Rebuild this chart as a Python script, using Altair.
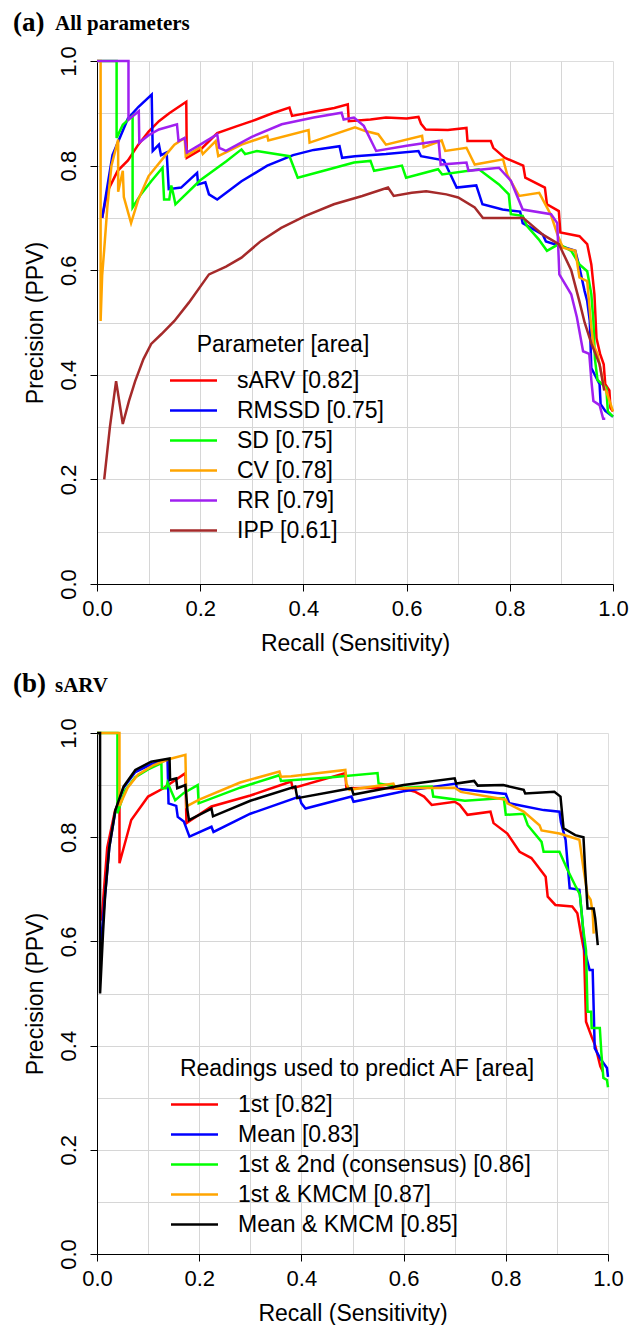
import altair as alt
import pandas as pd

# ---------------- text ----------------
top_tag, top_text = "(a)", "All parameters"
bot_tag, bot_text = "(b)", "sARV"
x_title = "Recall (Sensitivity)"
y_title = "Precision (PPV)"
top_legend_title = "Parameter [area]"
bot_legend_title = "Readings used to predict AF [area]"

ticks = [0.0, 0.1, 0.2, 0.3, 0.4, 0.5, 0.6, 0.7, 0.8, 0.9, 1.0]

# ---------------- panel (a): (recall, precision) ----------------
top_names = ["sARV [0.82]", "RMSSD [0.75]", "SD [0.75]", "CV [0.78]", "RR [0.79]", "IPP [0.61]"]
top_colors = ["#FF0000", "#0000FF", "#00FF00", "#FFA500", "#A020F0", "#A52A2A"]

sarv = [(0.010,0.700),(0.020,0.750),(0.040,0.790),(0.060,0.810),(0.080,0.840),(0.100,0.865),
        (0.120,0.885),(0.140,0.900),(0.173,0.922),(0.174,0.815),(0.200,0.830),(0.233,0.862),
        (0.270,0.875),(0.300,0.885),(0.340,0.900),(0.373,0.911),(0.378,0.895),(0.420,0.903),
        (0.460,0.910),(0.486,0.917),(0.488,0.885),(0.530,0.888),(0.560,0.892),(0.600,0.890),
        (0.623,0.893),(0.628,0.880),(0.637,0.869),(0.680,0.868),(0.716,0.872),(0.718,0.847),
        (0.763,0.847),(0.768,0.834),(0.790,0.815),(0.826,0.800),(0.830,0.777),(0.868,0.758),
        (0.872,0.726),(0.895,0.713),(0.898,0.672),(0.935,0.665),(0.950,0.650),(0.958,0.611),
        (0.964,0.554),(0.968,0.470),(0.975,0.440),(0.982,0.420),(0.985,0.382),(0.993,0.370),
        (0.995,0.337),(1.000,0.330)]
rmssd = [(0.010,0.700),(0.030,0.820),(0.060,0.890),(0.080,0.912),(0.106,0.936),(0.108,0.828),
         (0.120,0.840),(0.124,0.820),(0.135,0.825),(0.139,0.755),(0.163,0.758),(0.194,0.786),
         (0.196,0.764),(0.210,0.768),(0.217,0.745),(0.233,0.735),(0.280,0.770),(0.330,0.800),
         (0.380,0.820),(0.420,0.830),(0.470,0.837),(0.475,0.815),(0.500,0.818),(0.560,0.822),
         (0.623,0.828),(0.628,0.818),(0.672,0.810),(0.685,0.783),(0.697,0.758),(0.735,0.762),
         (0.747,0.726),(0.786,0.716),(0.820,0.712),(0.825,0.690),(0.864,0.668),(0.870,0.655),
         (0.927,0.637),(0.935,0.605),(0.945,0.560),(0.950,0.541),(0.955,0.503),(0.958,0.413),
         (0.974,0.382),(0.976,0.344),(0.985,0.331),(1.000,0.320)]
sd = [(0.000,1.000),(0.038,1.000),(0.038,0.853),(0.050,0.878),(0.069,0.895),(0.069,0.720),
      (0.085,0.745),(0.105,0.770),(0.127,0.796),(0.130,0.735),(0.140,0.735),(0.144,0.762),
      (0.148,0.745),(0.152,0.726),(0.200,0.772),(0.250,0.808),(0.280,0.831),(0.287,0.822),
      (0.310,0.828),(0.373,0.818),(0.389,0.777),(0.450,0.793),(0.498,0.806),(0.530,0.809),
      (0.537,0.790),(0.591,0.800),(0.599,0.777),(0.661,0.793),(0.669,0.783),(0.740,0.793),
      (0.779,0.764),(0.798,0.745),(0.802,0.707),(0.825,0.704),(0.833,0.685),(0.856,0.659),
      (0.872,0.637),(0.895,0.650),(0.919,0.637),(0.935,0.611),(0.950,0.598),(0.958,0.554),
      (0.962,0.503),(0.965,0.430),(0.970,0.390),(0.987,0.375),(0.990,0.330),(1.000,0.320)]
cv = [(0.000,1.000),(0.007,1.000),(0.007,0.503),(0.010,0.590),(0.014,0.640),(0.020,0.720),
      (0.028,0.800),(0.041,0.850),(0.041,0.750),(0.050,0.790),(0.052,0.740),(0.066,0.690),
      (0.080,0.735),(0.100,0.780),(0.133,0.820),(0.150,0.840),(0.170,0.853),(0.172,0.818),
      (0.200,0.835),(0.205,0.822),(0.230,0.847),(0.235,0.818),(0.280,0.840),(0.330,0.857),
      (0.332,0.848),(0.410,0.868),(0.412,0.844),(0.500,0.873),(0.520,0.866),(0.545,0.860),
      (0.560,0.840),(0.630,0.857),(0.633,0.835),(0.668,0.848),(0.675,0.828),(0.716,0.834),
      (0.732,0.802),(0.787,0.812),(0.795,0.783),(0.818,0.742),(0.857,0.748),(0.872,0.720),
      (0.880,0.705),(0.892,0.669),(0.903,0.643),(0.927,0.637),(0.935,0.586),(0.950,0.579),
      (0.958,0.490),(0.962,0.457),(0.970,0.440),(0.982,0.380),(0.990,0.360),(1.000,0.330)]
rr = [(0.000,1.000),(0.061,1.000),(0.061,0.888),(0.081,0.904),(0.082,0.844),(0.100,0.858),
      (0.120,0.869),(0.155,0.879),(0.158,0.847),(0.170,0.853),(0.174,0.825),(0.200,0.840),
      (0.233,0.860),(0.237,0.834),(0.250,0.828),(0.300,0.855),(0.358,0.879),(0.420,0.892),
      (0.474,0.901),(0.478,0.888),(0.498,0.892),(0.517,0.876),(0.541,0.828),(0.600,0.838),
      (0.662,0.847),(0.666,0.802),(0.716,0.806),(0.720,0.790),(0.779,0.796),(0.802,0.771),
      (0.825,0.716),(0.880,0.707),(0.892,0.690),(0.896,0.592),(0.919,0.554),(0.930,0.510),
      (0.942,0.445),(0.954,0.440),(0.958,0.390),(0.962,0.350),(0.974,0.342),(0.981,0.316),
      (0.985,0.316)]
ipp = [(0.014,0.200),(0.025,0.300),(0.037,0.388),(0.050,0.306),(0.062,0.350),(0.074,0.388),
       (0.090,0.430),(0.105,0.459),(0.125,0.478),(0.150,0.503),(0.178,0.538),(0.217,0.592),
       (0.250,0.607),(0.280,0.624),(0.318,0.656),(0.357,0.681),(0.404,0.704),(0.459,0.726),
       (0.514,0.742),(0.564,0.758),(0.575,0.742),(0.610,0.748),(0.638,0.751),(0.677,0.745),
       (0.700,0.739),(0.732,0.720),(0.748,0.700),(0.826,0.700),(0.864,0.668),(0.895,0.650),
       (0.919,0.600),(0.935,0.540),(0.945,0.500),(0.958,0.460),(0.974,0.420),(0.983,0.370)]

# ---------------- panel (b) ----------------
bot_names = ["1st [0.82]", "Mean [0.83]", "1st & 2nd (consensus) [0.86]",
             "1st & KMCM [0.87]", "Mean & KMCM [0.85]"]
bot_colors = ["#FF0000", "#0000FF", "#00FF00", "#FFA500", "#000000"]

first = [(0.009,0.640),(0.020,0.780),(0.035,0.850),(0.044,0.870),(0.044,0.750),(0.067,0.833),
         (0.100,0.878),(0.130,0.894),(0.173,0.923),(0.175,0.827),(0.224,0.859),(0.300,0.880),
         (0.380,0.907),(0.383,0.894),(0.486,0.923),(0.488,0.894),(0.550,0.895),(0.600,0.893),
         (0.623,0.887),(0.640,0.878),(0.655,0.862),(0.700,0.868),(0.710,0.862),(0.725,0.843),
         (0.770,0.849),(0.776,0.827),(0.803,0.807),(0.827,0.772),(0.850,0.760),(0.858,0.750),
         (0.878,0.724),(0.882,0.686),(0.897,0.670),(0.930,0.667),(0.940,0.654),(0.948,0.609),
         (0.953,0.583),(0.957,0.446),(0.968,0.417),(0.975,0.400),(0.985,0.360),(0.990,0.350)]
mean = [(0.008,0.600),(0.016,0.690),(0.024,0.780),(0.036,0.850),(0.052,0.895),(0.075,0.925),
        (0.106,0.940),(0.138,0.948),(0.140,0.865),(0.155,0.860),(0.158,0.839),(0.170,0.830),
        (0.181,0.801),(0.224,0.820),(0.228,0.810),(0.300,0.845),(0.396,0.878),(0.400,0.865),
        (0.408,0.855),(0.498,0.878),(0.502,0.868),(0.600,0.888),(0.702,0.903),(0.705,0.893),
        (0.800,0.883),(0.807,0.865),(0.874,0.852),(0.905,0.849),(0.908,0.828),(0.917,0.795),
        (0.925,0.702),(0.944,0.699),(0.948,0.660),(0.955,0.580),(0.964,0.545),(0.970,0.545),
        (0.974,0.395),(0.985,0.375),(0.998,0.357),(1.000,0.340)]
consensus = [(0.000,1.000),(0.040,1.000),(0.040,0.846),(0.055,0.890),(0.075,0.915),(0.100,0.930),
             (0.126,0.942),(0.127,0.894),(0.135,0.894),(0.138,0.905),(0.153,0.871),(0.170,0.885),
             (0.197,0.900),(0.199,0.865),(0.280,0.895),(0.357,0.919),(0.360,0.908),(0.460,0.915),
             (0.549,0.923),(0.551,0.903),(0.600,0.895),(0.655,0.897),(0.658,0.878),(0.720,0.870),
             (0.796,0.875),(0.800,0.843),(0.835,0.845),(0.843,0.823),(0.870,0.791),(0.874,0.772),
             (0.905,0.772),(0.921,0.737),(0.937,0.705),(0.945,0.690),(0.951,0.628),(0.957,0.583),
             (0.960,0.465),(0.967,0.465),(0.968,0.434),(0.984,0.434),(0.987,0.386),(0.991,0.338),
             (0.998,0.334),(1.000,0.320)]
first_kmcm = [(0.000,1.000),(0.044,1.000),(0.044,0.860),(0.060,0.895),(0.080,0.920),(0.110,0.938),
              (0.142,0.950),(0.173,0.958),(0.175,0.859),(0.200,0.872),(0.280,0.905),(0.357,0.926),
              (0.360,0.916),(0.380,0.917),(0.486,0.929),(0.488,0.903),(0.494,0.891),(0.580,0.903),
              (0.584,0.894),(0.700,0.895),(0.712,0.887),(0.800,0.872),(0.803,0.865),(0.835,0.849),
              (0.866,0.823),(0.870,0.813),(0.905,0.807),(0.944,0.795),(0.952,0.740),(0.960,0.689),
              (0.966,0.680),(0.970,0.655),(0.972,0.615)]
mean_kmcm = [(0.000,1.000),(0.006,1.000),(0.006,0.500),(0.009,0.560),(0.012,0.620),(0.016,0.690),
             (0.024,0.780),(0.036,0.852),(0.052,0.897),(0.075,0.929),(0.106,0.945),(0.142,0.951),
             (0.143,0.910),(0.155,0.913),(0.157,0.894),(0.173,0.900),(0.177,0.852),(0.180,0.833),
             (0.224,0.855),(0.227,0.840),(0.300,0.870),(0.388,0.897),(0.392,0.875),(0.498,0.894),
             (0.502,0.882),(0.600,0.900),(0.700,0.913),(0.703,0.903),(0.738,0.908),(0.745,0.899),
             (0.795,0.900),(0.835,0.891),(0.838,0.884),(0.895,0.887),(0.907,0.878),(0.913,0.817),
             (0.936,0.804),(0.952,0.800),(0.955,0.743),(0.960,0.663),(0.972,0.663),(0.975,0.644),
             (0.980,0.593)]

SANS = "Liberation Sans"
SERIF = "Liberation Serif"
# long horizontal legend stroke drawn wider than its layout box
LEGEND_STROKE = "M-2.35,0L2.35,0"


def frame(names, series):
    rows = []
    for k, (n, s) in enumerate(zip(names, series)):
        for i, (x, y) in enumerate(s):
            rows.append({"name": n, "k": k, "i": i, "recall": x, "precision": y})
    return pd.DataFrame(rows)


EVEN = "round(datum.value * 10) % 2 == 0"
NOT_TOP = "datum.value > 0.99"


def axis_common():
    return dict(
        values=ticks,
        labelExpr=f"{EVEN} ? format(datum.value, '.1f') : ''",
        tickOpacity={"condition": {"test": EVEN, "value": 1}, "value": 0},
        gridOpacity={"condition": {"test": NOT_TOP, "value": 0}, "value": 1},
        labelFlush=False,
        labelOverlap=False,
        tickSize=7,
        labelFont=SANS, labelFontSize=22, labelColor="black",
        titleFont=SANS, titleFontSize=23, titleFontWeight="normal", titleColor="black",
        domainColor="black", tickColor="black", gridColor="#D6D6D6",
    )


def panel(names, colors, series, legend_title, tag, text, w, h, lx, ly, tag_dy, text_dy):
    df = frame(names, series)
    xs = alt.Scale(domain=[0, 1], nice=False, zero=False)
    lines = alt.Chart(df).mark_line(strokeWidth=2.5).encode(
        x=alt.X("recall:Q", scale=xs,
                axis=alt.Axis(title=x_title, labelPadding=7, titlePadding=13, **axis_common())),
        y=alt.Y("precision:Q", scale=xs,
                axis=alt.Axis(title=y_title, labelAngle=270, labelAlign="center",
                              labelBaseline="alphabetic", labelPadding=15, titlePadding=10,
                              **axis_common())),
        color=alt.Color("name:N", scale=alt.Scale(domain=names, range=colors),
                        legend=alt.Legend(title=legend_title, orient="none", legendX=lx, legendY=ly,
                                          symbolType=LEGEND_STROKE, symbolSize=400,
                                          symbolStrokeWidth=2.5, symbolFillColor="transparent",
                                          labelFont=SANS, labelFontSize=23, labelColor="black",
                                          labelOffset=32, labelLimit=600,
                                          titleFont=SANS, titleFontSize=23, titleFontWeight="normal",
                                          titleColor="black", titleAnchor="middle", titleLimit=600,
                                          titlePadding=12, rowPadding=6, padding=0)),
        order=alt.Order("i:Q"),
    )
    tag_mark = alt.Chart(pd.DataFrame({"t": [tag]})).mark_text(
        align="left", baseline="alphabetic", font=SERIF, fontWeight="bold", fontSize=27, color="black"
    ).encode(x=alt.value(-84), y=alt.value(tag_dy), text="t:N")
    text_mark = alt.Chart(pd.DataFrame({"t": [text]})).mark_text(
        align="left", baseline="alphabetic", font=SERIF, fontWeight="bold", fontSize=21, color="black"
    ).encode(x=alt.value(-42), y=alt.value(text_dy), text="t:N")
    return alt.layer(lines, tag_mark, text_mark).properties(width=w, height=h)


top = panel(top_names, top_colors, [sarv, rmssd, sd, cv, rr, ipp], top_legend_title,
            top_tag, top_text, 516, 523, 85, 273, -30, -31.5)
bottom = panel(bot_names, bot_colors, [first, mean, consensus, first_kmcm, mean_kmcm],
               bot_legend_title, bot_tag, bot_text, 511, 521, 82, 325, -41, -41)

chart = alt.vconcat(top, bottom, spacing=13).resolve_scale(color="independent").properties(
    padding={"left": 12, "top": 8, "right": 0, "bottom": 0}
).configure_view(stroke=None).configure(background="white")

chart.save("out.html", embed_options={"renderer": "svg", "actions": False})
